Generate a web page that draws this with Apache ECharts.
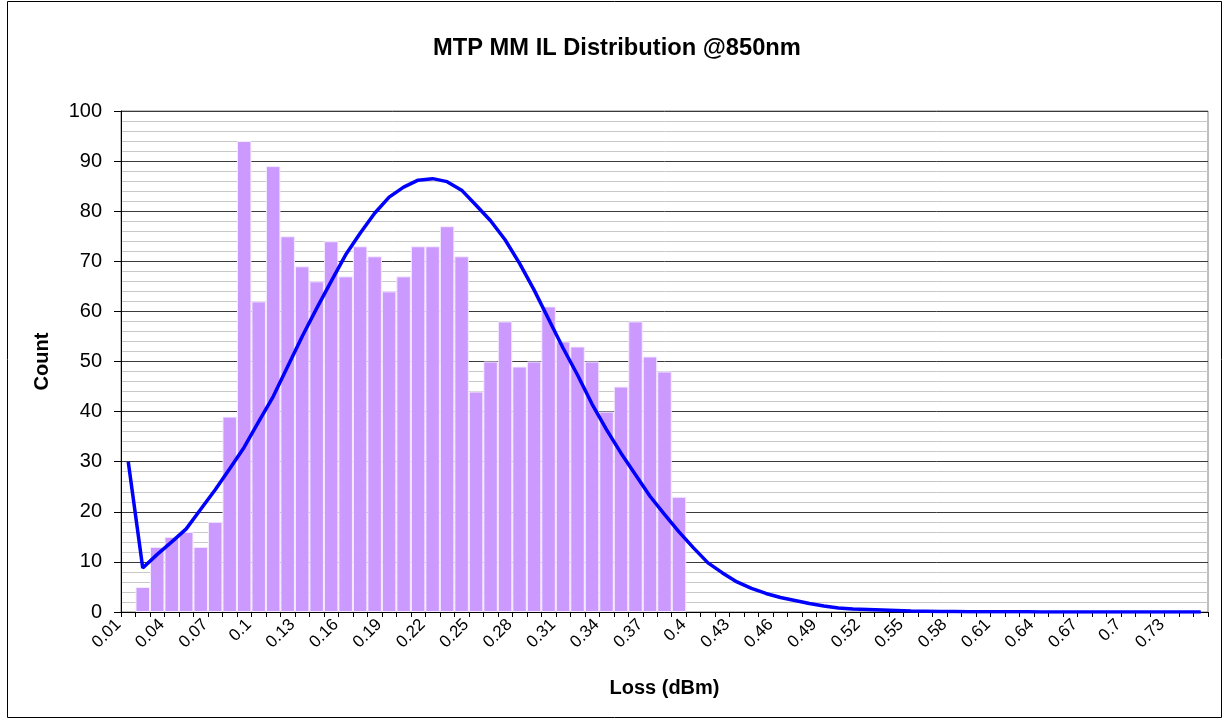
<!DOCTYPE html>
<html>
<head>
<meta charset="utf-8">
<script src="https://cdn.jsdelivr.net/npm/echarts@6/dist/echarts.min.js"></script>
<style>
html,body{margin:0;padding:0;background:#fff;}
#chart{width:1226px;height:720px;}
</style>
</head>
<body>
<div id="chart"></div>
<script>
var categories = ['0.01','0.02','0.03','0.04','0.05','0.06','0.07','0.08','0.09','0.1',
  '0.11','0.12','0.13','0.14','0.15','0.16','0.17','0.18','0.19','0.2',
  '0.21','0.22','0.23','0.24','0.25','0.26','0.27','0.28','0.29','0.3',
  '0.31','0.32','0.33','0.34','0.35','0.36','0.37','0.38','0.39','0.4',
  '0.41','0.42','0.43','0.44','0.45','0.46','0.47','0.48','0.49','0.5',
  '0.51','0.52','0.53','0.54','0.55','0.56','0.57','0.58','0.59','0.6',
  '0.61','0.62','0.63','0.64','0.65','0.66','0.67','0.68','0.69','0.7',
  '0.71','0.72','0.73','0.74','0.75'];

var counts = [0,5,13,15,16,13,18,39,94,62,
  89,75,69,66,74,67,73,71,64,67,
  73,73,77,71,44,50,58,49,50,61,
  54,53,50,40,45,58,51,48,23,0,
  0,0,0,0,0,0,0,0,0,0,
  0,0,0,0,0,0,0,0,0,0,
  0,0,0,0,0,0,0,0,0,0,
  0,0,0,0,0];

var normalFit = [30,8.8,11.5,14.0,16.6,20.5,24.4,28.6,32.9,38.0,
  43.0,49.0,55.0,60.6,66.0,71.3,75.6,79.6,82.8,84.8,
  86.2,86.5,85.9,84.2,81.2,78.1,74.3,69.6,64.3,58.5,
  52.7,47.3,41.5,36.4,31.7,27.4,23.1,19.5,16.0,12.8,
  9.8,7.8,6.0,4.7,3.7,2.9,2.3,1.7,1.2,0.8,
  0.6,0.5,0.4,0.3,0.2,0.15,0.1,0.1,0.05,0.05,
  0.05,0.03,0.03,0.02,0.02,0.01,0.01,0.01,0,0,
  0,0,0,0,0];

var FONT = '"Liberation Sans", Arial, sans-serif';
var chart = echarts.init(document.getElementById('chart'), null, {renderer:'canvas'});
chart.setOption({
  animation: false,
  backgroundColor: '#ffffff',
  title: {
    text: 'MTP MM IL Distribution @850nm',
    left: 428,
    top: 31,
    textStyle: {fontFamily: FONT, fontSize: 23.7, fontWeight: 'bold', color: '#000'}
  },
  graphic: [{
    type: 'rect',
    shape: {x: 7.5, y: 1.5, width: 1214, height: 716},
    style: {fill: 'none', stroke: '#000', lineWidth: 1},
    silent: true
  }],
  grid: {
    left: 121, right: 18, top: 111, bottom: 108,
    show: true, borderColor: '#808080', borderWidth: 1, backgroundColor: 'transparent'
  },
  xAxis: {
    type: 'category',
    data: categories,
    boundaryGap: true,
    name: 'Loss (dBm)',
    nameLocation: 'middle',
    nameGap: 76,
    nameTextStyle: {fontFamily: FONT, fontSize: 20, fontWeight: 'bold', color: '#000', verticalAlign: 'middle'},
    axisLine: {show: true, lineStyle: {color: '#000', width: 1}},
    axisTick: {show: true, interval: 0, length: 5, inside: false, lineStyle: {color: '#000'}},
    axisLabel: {interval: 2, rotate: 45, fontFamily: FONT, fontSize: 17, color: '#000', margin: 0, padding: [0, 14, 0, 0]},
    splitLine: {show: false}
  },
  yAxis: {
    type: 'value',
    min: 0, max: 100, interval: 10,
    name: 'Count',
    nameLocation: 'middle',
    nameGap: 79,
    nameRotate: 90,
    nameTextStyle: {fontFamily: FONT, fontSize: 20, fontWeight: 'bold', color: '#000', verticalAlign: 'middle'},
    axisLine: {show: true, lineStyle: {color: '#000', width: 1}},
    axisTick: {show: true, length: 7, inside: false, lineStyle: {color: '#000'}},
    axisLabel: {fontFamily: FONT, fontSize: 20, color: '#000', margin: 19},
    splitLine: {show: true, lineStyle: {color: '#3a3a3a', width: 1}},
    minorTick: {show: false, splitNumber: 5},
    minorSplitLine: {show: true, lineStyle: {color: '#c8c8c8', width: 1}}
  },
  series: [{
    type: 'bar',
    data: counts.map(function(v){ return v === 0 ? null : v; }),
    barCategoryGap: '0%',
    itemStyle: {color: '#cc99ff', borderColor: '#f4ecff', borderWidth: 1},
    z: 2
  }, {
    type: 'line',
    data: normalFit,
    symbol: 'none',
    smooth: false,
    lineStyle: {color: '#0000ff', width: 3.5},
    z: 3
  }]
});
</script>
</body>
</html>
